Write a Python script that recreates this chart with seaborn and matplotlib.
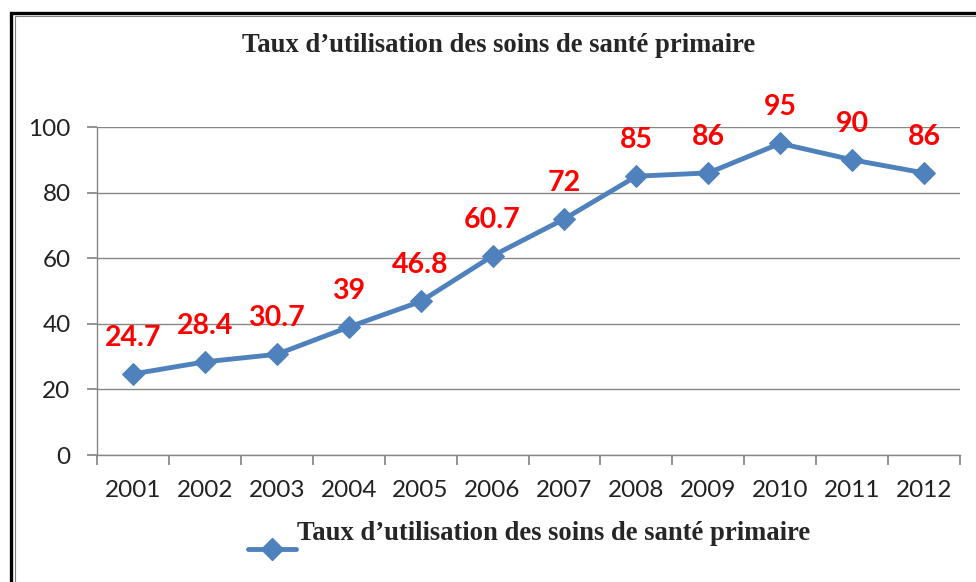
import matplotlib
matplotlib.use("Agg")
import matplotlib.pyplot as plt
from matplotlib.lines import Line2D
from matplotlib.patches import Rectangle
import pandas as pd
import seaborn as sns

# data
years = ["2001", "2002", "2003", "2004", "2005", "2006",
         "2007", "2008", "2009", "2010", "2011", "2012"]
rates = [24.7, 28.4, 30.7, 39, 46.8, 60.7, 72, 85, 86, 95, 90, 86]
value_labels = ["24.7", "28.4", "30.7", "39", "46.8", "60.7",
                "72", "85", "86", "95", "90", "86"]

TITLE = "Taux d\u2019utilisation des soins de santé primaire"
BLUE = "#4F81BD"
GRID = "#878787"
SERIF = ["Liberation Serif", "DejaVu Serif"]
SANS = ["Lato", "DejaVu Sans"]

sns.set_theme(style="white")
plt.rcParams["font.family"] = SANS

df = pd.DataFrame({"year": years, "rate": rates})

fig = plt.figure(figsize=(9.76, 5.82), dpi=100)
ax = fig.add_axes([97 / 976, 1 - 455 / 582, (960 - 97) / 976, (455 - 127) / 582])

sns.lineplot(data=df, x="year", y="rate", ax=ax, color=BLUE, lw=3.5,
             marker="D", markersize=11, markeredgecolor=BLUE, sort=False)

for x, y, lab in zip(range(len(years)), rates, value_labels):
    ax.annotate(lab, (x, y), xytext=(0, 26), textcoords="offset points",
                ha="center", va="center", color="#FF0000",
                fontsize=20.5, fontweight="bold")

ax.set_xlim(-0.5, len(years) - 0.5)
ax.set_ylim(0, 100)
ax.set_yticks(range(0, 101, 20))
ax.yaxis.grid(True, color=GRID, lw=1)
ax.set_axisbelow(True)

# category boundaries as major ticks, labels on minor ticks at centres
ax.set_xticks([i - 0.5 for i in range(len(years) + 1)])
ax.set_xticklabels([])
ax.set_xticks(range(len(years)), minor=True)
ax.set_xticklabels(years, minor=True)
ax.tick_params(axis="x", which="major", direction="out", length=7,
               color=GRID, bottom=True)
ax.tick_params(axis="x", which="minor", length=0, pad=18,
               labelsize=17.5, labelcolor="#222222")
ax.tick_params(axis="y", direction="out", length=7, color=GRID, left=True,
               pad=12, labelsize=17.5, labelcolor="#222222")
ax.set_xlabel("")
ax.set_ylabel("")

for side in ("top", "right"):
    ax.spines[side].set_visible(False)
for side in ("left", "bottom"):
    ax.spines[side].set_color(GRID)
    ax.spines[side].set_linewidth(1)

fig.text(499 / 976, 1 - 45 / 582, TITLE, ha="center", va="center",
         family=SERIF, fontsize=19.2, fontweight="bold")

# legend: line handle below-left of the label, as in the reference
fig.text(297 / 976, 1 - 533 / 582, TITLE, ha="left", va="center",
         family=SERIF, fontsize=19.2, fontweight="bold")
fig.add_artist(Line2D([248 / 976, 296 / 976], [1 - 549 / 582] * 2,
                      transform=fig.transFigure, color=BLUE, lw=3.5))
fig.add_artist(Line2D([272 / 976], [1 - 549 / 582], transform=fig.transFigure,
                      color=BLUE, marker="D", markersize=11))

# double page frame
fig.add_artist(Rectangle((10.5 / 976, -0.1), 1.2, 1.1 - 12.5 / 582,
                         transform=fig.transFigure, fill=False,
                         edgecolor="black", lw=2.4))
fig.add_artist(Rectangle((14.5 / 976, -0.1), 1.2, 1.1 - 16.5 / 582,
                         transform=fig.transFigure, fill=False,
                         edgecolor="#808080", lw=0.8))

fig.savefig("out.png", dpi=100)
